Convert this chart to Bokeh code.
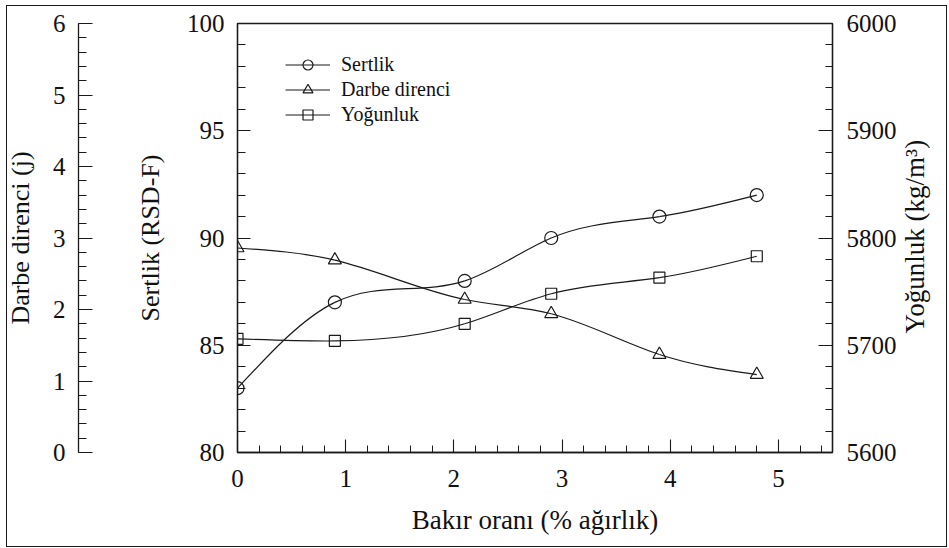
import math
import numpy as np
from bokeh.plotting import figure
from bokeh.models import (Range1d, LinearAxis, SingleIntervalTicker, FixedTicker,
                          Legend, LegendItem, InlineStyleSheet)
from bokeh.embed import file_html
from bokeh.resources import INLINE

# ---------------- data ----------------
bakir = [0.0, 0.9, 2.1, 2.9, 3.9, 4.8]                 # Bakır oranı (% ağırlık)
sertlik = [83.0, 87.0, 88.0, 90.0, 91.0, 92.0]          # Sertlik (RSD-F)
darbe = [2.86, 2.69, 2.14, 1.94, 1.37, 1.09]            # Darbe direnci (j)
yogunluk = [5706, 5704, 5720, 5748, 5763, 5783]         # Yoğunluk (kg/m3)

series_names = ["Sertlik", "Darbe direnci", "Yoğunluk"]
x_label = "Bakır oranı (% ağırlık)"
y_label_sertlik = "Sertlik (RSD-F)"
y_label_darbe = "Darbe direnci (j)"
y_label_yog = "Yoğunluk (kg/m³)"

FONT = "Liberation Serif"
INK = "#1a1a1a"


def spline_beziers(x, y):
    """Natural cubic spline through the points, expressed as Bezier segments."""
    x = np.asarray(x, float)
    y = np.asarray(y, float)
    n = len(x)
    h = np.diff(x)
    A = np.zeros((n, n))
    r = np.zeros(n)
    A[0, 0] = 1.0
    A[-1, -1] = 1.0
    for i in range(1, n - 1):
        A[i, i - 1] = h[i - 1]
        A[i, i] = 2 * (h[i - 1] + h[i])
        A[i, i + 1] = h[i]
        r[i] = 6 * ((y[i + 1] - y[i]) / h[i] - (y[i] - y[i - 1]) / h[i - 1])
    M = np.linalg.solve(A, r)
    d0 = (y[1:] - y[:-1]) / h - h * (2 * M[:-1] + M[1:]) / 6
    d1 = (y[1:] - y[:-1]) / h + h * (M[:-1] + 2 * M[1:]) / 6
    return dict(x0=x[:-1], y0=y[:-1], x1=x[1:], y1=y[1:],
                cx0=x[:-1] + h / 3, cy0=y[:-1] + h * d0 / 3,
                cx1=x[1:] - h / 3, cy1=y[1:] - h * d1 / 3)


p = figure(width=949, height=548, output_backend="svg", toolbar_location=None,
           x_range=Range1d(0, 5.5), y_range=Range1d(80, 100),
           min_border_left=237, min_border_right=117,
           min_border_top=23, min_border_bottom=96,
           background_fill_color="white", border_fill_color="white")
p.extra_y_ranges = {"darbe": Range1d(0, 6), "yog": Range1d(5600, 6000)}
p.xgrid.visible = False
p.ygrid.visible = False
p.outline_line_color = INK
p.outline_line_width = 1.3

# thin frame around the whole picture (pure CSS decoration)
p.stylesheets = [InlineStyleSheet(css="""
:host { position: relative; }
:host::after {
  content: ''; position: absolute; left: 6px; top: 5px;
  width: 941px; height: 542px; box-sizing: border-box;
  border: 1.5px solid #1a1a1a; pointer-events: none; z-index: 10;
}
""")]


def style_axis(ax, tick_in, tick_out=0):
    ax.axis_line_color = INK
    ax.axis_line_width = 1.3
    ax.major_tick_line_color = INK
    ax.minor_tick_line_color = INK
    ax.major_tick_line_width = 1.1
    ax.minor_tick_line_width = 1.0
    ax.major_tick_in = tick_in
    ax.major_tick_out = tick_out
    ax.minor_tick_in = 8
    ax.minor_tick_out = 0
    ax.major_label_text_font = FONT
    ax.major_label_text_font_size = "25px"
    ax.major_label_text_color = "#111111"
    ax.axis_label_text_font = FONT
    ax.axis_label_text_font_size = "26px"
    ax.axis_label_text_font_style = "normal"
    ax.axis_label_text_color = "#111111"


# x axis
xa = p.xaxis[0]
xa.ticker = SingleIntervalTicker(interval=1, num_minor_ticks=5)
xa.axis_label = x_label
style_axis(xa, 13)
xa.minor_tick_in = 7
xa.major_label_standoff = 17
xa.axis_label_standoff = 15
xa.axis_label_text_font_size = "27px"

# Sertlik axis (inner left)
ya = p.yaxis[0]
ya.ticker = SingleIntervalTicker(interval=5, num_minor_ticks=5)
ya.axis_label = y_label_sertlik
style_axis(ya, 13)
ya.major_label_standoff = 13
ya.axis_label_standoff = 19

# spacer between the two left axes
spacer = LinearAxis(ticker=FixedTicker(ticks=[]), axis_line_color=None,
                    major_tick_line_color=None, minor_tick_line_color=None,
                    major_tick_in=0, major_tick_out=0, minor_tick_out=0,
                    major_label_standoff=0,
                    axis_label="\u00a0", axis_label_text_font_size="10px",
                    axis_label_standoff=40)
p.add_layout(spacer, "left")

# Darbe direnci axis (outer left)
da = LinearAxis(y_range_name="darbe",
                ticker=SingleIntervalTicker(interval=1, num_minor_ticks=5),
                axis_label=y_label_darbe)
style_axis(da, 14)
da.major_label_standoff = 13
da.axis_label_standoff = 15
p.add_layout(da, "left")

# Yoğunluk axis (right)
ra = LinearAxis(y_range_name="yog",
                ticker=SingleIntervalTicker(interval=100, num_minor_ticks=5))
style_axis(ra, 14)
ra.minor_tick_in = 7
ra.major_label_standoff = 14
p.add_layout(ra, "right")

# Title of the right axis, written upwards (bottom-to-top) like the original
title_pos = 5711
rt = LinearAxis(y_range_name="yog", ticker=FixedTicker(ticks=[title_pos]),
                major_label_overrides={title_pos: y_label_yog},
                major_label_orientation=math.pi / 2,
                axis_line_color=None, major_tick_line_color=None,
                minor_tick_line_color=None, major_tick_in=0, major_tick_out=0,
                minor_tick_in=0, minor_tick_out=0, major_label_standoff=16,
                major_label_text_font=FONT, major_label_text_font_size="27px",
                major_label_text_color="#111111")
p.add_layout(rt, "right")

# ---------------- series ----------------
specs = [
    (sertlik, "default", "circle", 13),
    (darbe, "darbe", "triangle", 13),
    (yogunluk, "yog", "square", 11),
]
items = []
for (vals, rng, marker, size), name in zip(specs, series_names):
    bz = spline_beziers(bakir, vals)
    br = p.bezier(**bz, line_color=INK, line_width=1.2, y_range_name=rng)
    sr = p.scatter(bakir, vals, marker=marker, size=size, fill_alpha=0,
                   line_color=INK, line_width=1.2, y_range_name=rng)
    items.append(LegendItem(label=name, renderers=[br, sr], index=0))

legend = Legend(items=items, location=(48, 325), orientation="vertical",
                glyph_width=45, glyph_height=25, label_height=25, spacing=0,
                padding=0, margin=0, label_standoff=11,
                label_text_font=FONT, label_text_font_size="20px",
                label_text_color="#111111",
                border_line_alpha=0, background_fill_alpha=0)
p.add_layout(legend)

open("out.html", "w").write(file_html(p, INLINE))
